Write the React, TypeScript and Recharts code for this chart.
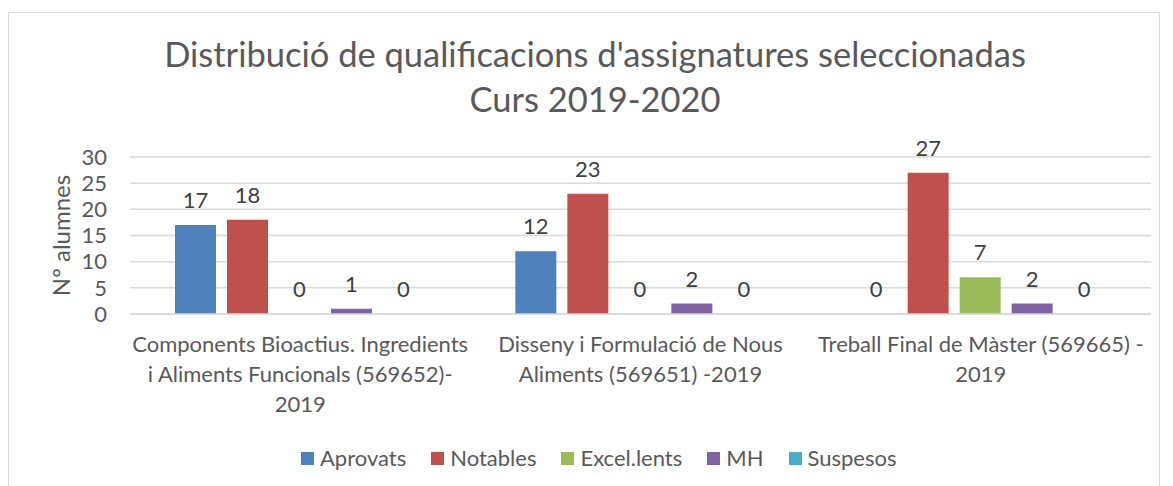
import { Bar, BarChart, CartesianGrid, LabelList, XAxis, YAxis } from "recharts"

const titleLines = ["Distribució de qualificacions d'assignatures seleccionadas", "Curs 2019-2020"]
const categories = [
  "Components Bioactius. Ingredients i Aliments Funcionals (569652)-2019",
  "Disseny i Formulació de Nous Aliments (569651) -2019",
  "Treball Final de Màster (569665) -2019",
]
const categoryLines = [
  ["Components Bioactius. Ingredients", "i Aliments Funcionals (569652)-", "2019"],
  ["Disseny i Formulació de Nous", "Aliments (569651) -2019"],
  ["Treball Final de Màster (569665) -", "2019"],
]
const aprovats = [17, 12, 0]
const notables = [18, 23, 27]
const excellents = [0, 0, 7]
const mh = [1, 2, 2]
const suspesos = [0, 0, 0]
const seriesKeys = ["aprovats", "notables", "excellents", "mh", "suspesos"]
const seriesNames = ["Aprovats", "Notables", "Excel.lents", "MH", "Suspesos"]
const seriesColors = ["#4F81BD", "#C0504D", "#9BBB59", "#8064A2", "#4BACC6"]
const yTicks = [0, 5, 10, 15, 20, 25, 30]
const yLabel = "Nº alumnes"

const data = categories.map((name, i) => ({
  name,
  aprovats: aprovats[i],
  notables: notables[i],
  excellents: excellents[i],
  mh: mh[i],
  suspesos: suspesos[i],
}))

const FONT = "Lato, 'Open Sans', sans-serif"

function CategoryTick({ x, y, index }: any) {
  const lines = categoryLines[index] ?? []
  return (
    <text x={x} y={y + 38} textAnchor="middle" fill="#595959" fontSize={22} fontFamily={FONT}>
      {lines.map((line, i) => (
        <tspan key={i} x={x} dy={i === 0 ? 0 : 30}>
          {line}
        </tspan>
      ))}
    </text>
  )
}

function AxisTitle({ viewBox }: any) {
  const cx = viewBox.x - 20
  const cy = viewBox.y + viewBox.height / 2
  return (
    <text
      x={cx}
      y={cy}
      transform={`rotate(-90 ${cx} ${cy})`}
      textAnchor="middle"
      dominantBaseline="central"
      fill="#595959"
      fontSize={24}
      fontFamily={FONT}
    >
      {yLabel}
    </text>
  )
}

// zero values still need their "0" label, so give them a hairline bar
const zeroHairline = (value: any) => (value === 0 ? 0.01 : 0)

export default function App() {
  return (
    <div style={{ position: "absolute", left: 0, top: 0, width: 1173, height: 486, background: "#fff", fontFamily: FONT }}>
      <div
        style={{
          position: "absolute",
          left: 8,
          top: 12,
          width: 1152,
          height: 480,
          border: "1px solid #d9d9d9",
          boxSizing: "border-box",
        }}
      />
      <div
        style={{
          position: "absolute",
          left: 0,
          top: 31,
          width: 1190,
          textAlign: "center",
          color: "#595959",
          fontSize: 34.5,
          lineHeight: "45px",
        }}
      >
        {titleLines.map((t) => (
          <div key={t}>{t}</div>
        ))}
      </div>
      <BarChart
        width={1173}
        height={486}
        data={data}
        margin={{ top: 157, right: 22, bottom: 142, left: 80 }}
        barCategoryGap={45}
        barGap={11}
        style={{ position: "absolute", left: 0, top: 0 }}
      >
        <CartesianGrid vertical={false} stroke="#d9d9d9" strokeWidth={1.5} />
        <XAxis
          dataKey="name"
          height={30}
          axisLine={{ stroke: "#d9d9d9", strokeWidth: 1.5 }}
          tickLine={false}
          tickSize={0}
          tickMargin={0}
          interval={0}
          tick={<CategoryTick />}
        />
        <YAxis
          width={50}
          domain={[0, 30]}
          ticks={yTicks}
          interval={0}
          axisLine={false}
          tickLine={false}
          tickSize={0}
          tickMargin={23}
          tick={{ fill: "#595959", fontSize: 22, fontFamily: FONT }}
          label={<AxisTitle />}
        />
        {seriesKeys.map((key, i) => (
          <Bar
            key={key}
            dataKey={key}
            name={seriesNames[i]}
            fill={seriesColors[i]}
            minPointSize={zeroHairline}
            isAnimationActive={false}
          >
            <LabelList dataKey={key} position="top" offset={17} fill="#404040" fontSize={22} fontFamily={FONT} />
          </Bar>
        ))}
      </BarChart>
      <div
        style={{
          position: "absolute",
          left: 301,
          top: 445,
          display: "flex",
          alignItems: "center",
          color: "#595959",
          fontSize: 22,
          lineHeight: "26px",
        }}
      >
        {seriesNames.map((name, i) => (
          <div key={name} style={{ display: "flex", alignItems: "center", marginRight: 25 }}>
            <span style={{ width: 13, height: 13, background: seriesColors[i], marginRight: 6, display: "inline-block" }} />
            <span>{name}</span>
          </div>
        ))}
      </div>
    </div>
  )
}
